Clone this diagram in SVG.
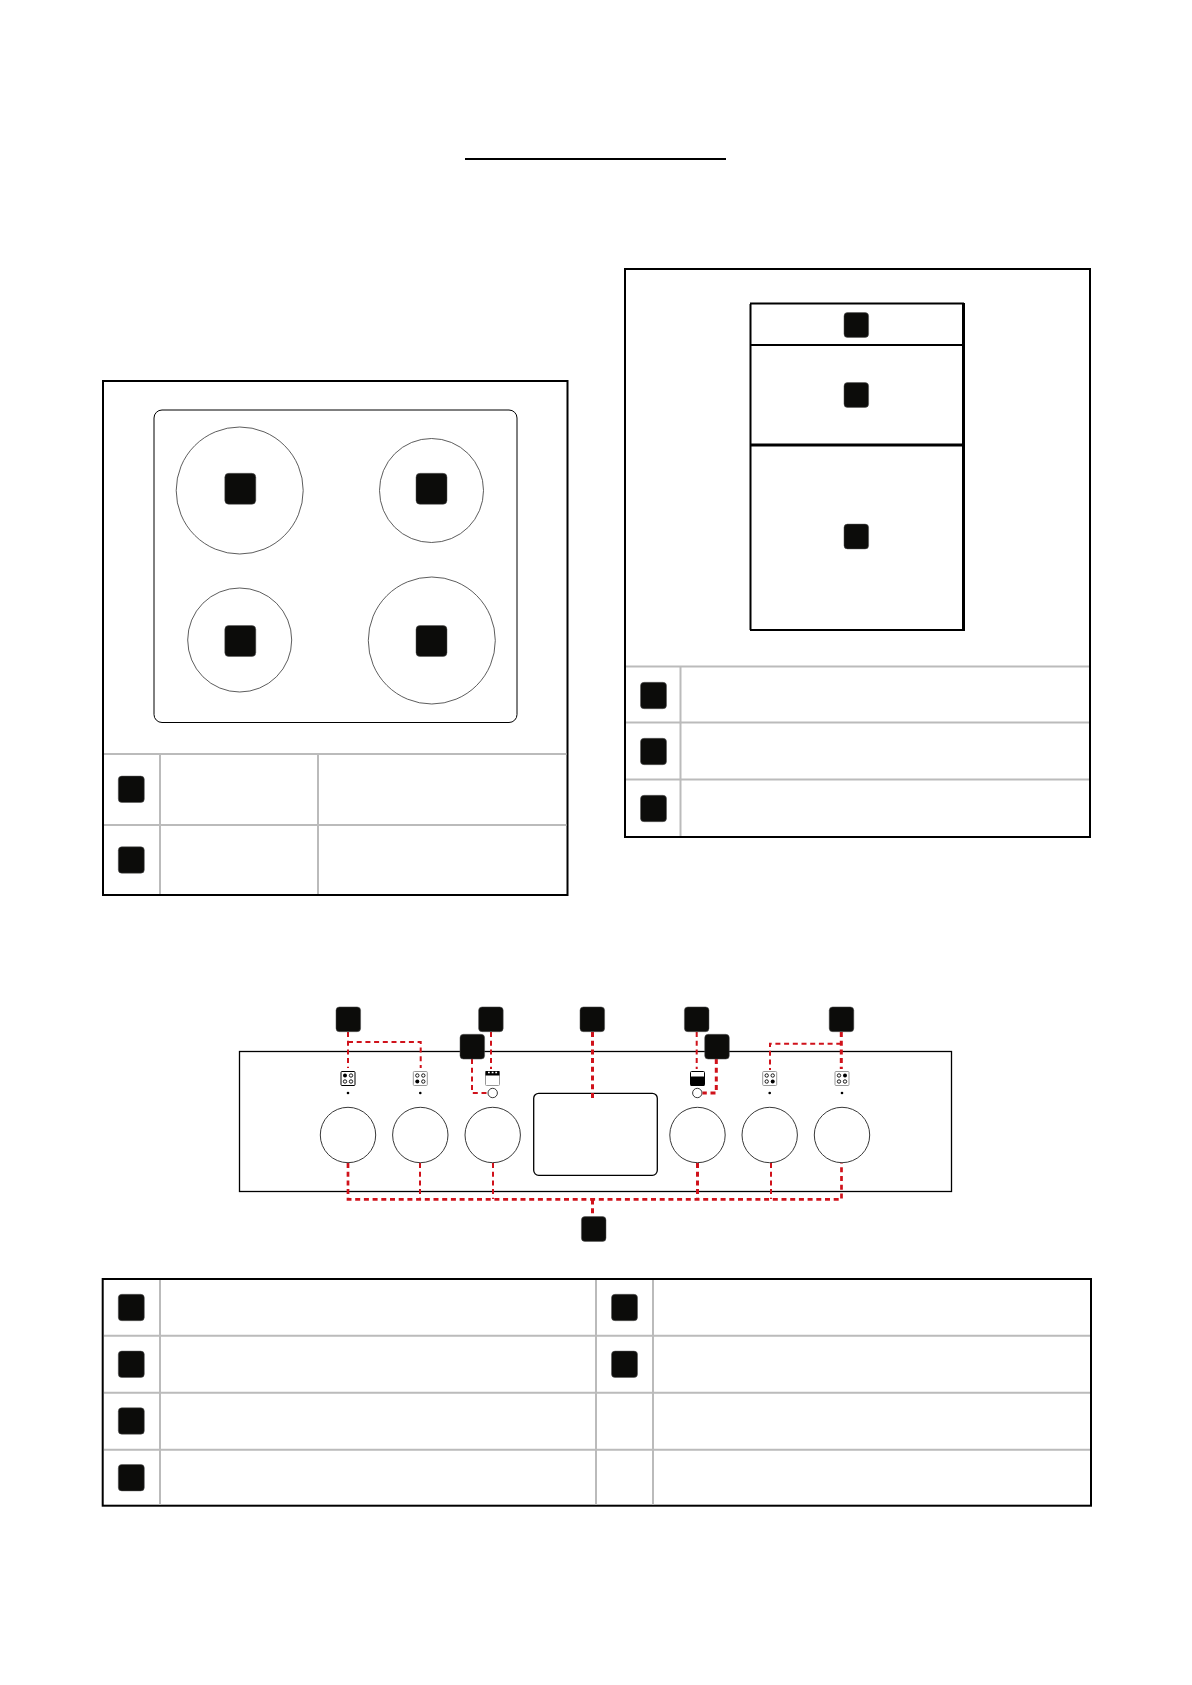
<svg xmlns="http://www.w3.org/2000/svg" width="1192" height="1685" viewBox="0 0 1192 1685">
<style>
.box{fill:none;stroke:#000;stroke-width:2}
.thin{fill:none;stroke:#000;stroke-width:1}
.ring{fill:none;stroke:#333;stroke-width:.8}
.panel{fill:none;stroke:#000;stroke-width:1.3}
.grid{fill:none;stroke:#bbb;stroke-width:2}
.b{fill:#0c0c0a;stroke:#555;stroke-width:.5}
.d2{fill:none;stroke:#d0121b;stroke-width:2;stroke-dasharray:5 3.7}
.d3{fill:none;stroke:#d0121b;stroke-width:3;stroke-dasharray:5 3.7}
.d25{fill:none;stroke:#d0121b;stroke-width:2.7;stroke-dasharray:5 3.7}
.knob{fill:#fff;stroke:#222;stroke-width:.9}
.ic{fill:#fff;stroke:#999;stroke-width:1}
.icd{fill:#fff;stroke:#000;stroke-width:1}
.o{fill:#fff;stroke:#000;stroke-width:.9}
.f{fill:#000}
</style>
<defs>
<rect id="bs" class="b" x="-13" y="-13.2" width="26" height="26.4" rx="3.500"/>
<rect id="bm" class="b" x="-12.3" y="-12.4" width="24.6" height="24.8" rx="3.500"/>
<rect id="bh" class="b" x="-15.5" y="-15.5" width="31" height="31" rx="4"/>
</defs>
<rect width="1192" height="1685" fill="#fff"/>
<g id="title-rule"><rect x="465" y="158" width="261" height="2" fill="#000"/></g>

<g id="hob-box">
<rect class="box" x="103" y="381" width="464.500" height="514"/>
<path class="grid" d="M104 754H566.500M104 825H566.500M160 755V894M318 755V894"/>
<rect class="thin" x="154" y="410" width="363" height="312.500" rx="8"/>
<circle class="ring" cx="239.700" cy="490.500" r="63.500"/>
<circle class="ring" cx="431.500" cy="490.500" r="52"/>
<circle class="ring" cx="239.700" cy="640" r="52"/>
<circle class="ring" cx="431.800" cy="640.500" r="63.500"/>
<use href="#bh" x="240.300" y="488.800"/>
<use href="#bh" x="431.500" y="488.800"/>
<use href="#bh" x="240.300" y="641"/>
<use href="#bh" x="431.500" y="641"/>
<use href="#bs" x="131.300" y="789.300"/>
<use href="#bs" x="131.300" y="860"/>
</g>

<g id="oven-box">
<rect class="box" x="625" y="269" width="465" height="568"/>
<path class="grid" d="M626 666.500H1089M626 722.500H1089M626 779.500H1089M680.500 667V836"/>
<path d="M750.500 304V630M750 303.500H964M750 630H964" fill="none" stroke="#000" stroke-width="2"/>
<path d="M963.500 303V631" fill="none" stroke="#000" stroke-width="3"/>
<path d="M751 345H963" stroke="#000" stroke-width="2" fill="none"/>
<path d="M751 445H963" stroke="#000" stroke-width="3" fill="none"/>
<use href="#bm" x="856.300" y="325"/>
<use href="#bm" x="856.300" y="395"/>
<use href="#bm" x="856.300" y="536.500"/>
<use href="#bs" x="653.500" y="695.500"/>
<use href="#bs" x="653.500" y="751.500"/>
<use href="#bs" x="653.500" y="808.500"/>
</g>

<g id="control-panel">
<rect class="panel" x="239.500" y="1051.500" width="712" height="140"/>
<rect class="panel" x="533.700" y="1093.300" width="123.600" height="82" rx="5" fill="#fff"/>
<circle class="knob" cx="348" cy="1135" r="27.700"/>
<circle class="knob" cx="420.300" cy="1135" r="27.700"/>
<circle class="knob" cx="492.700" cy="1135" r="27.700"/>
<circle class="knob" cx="697.500" cy="1135" r="27.700"/>
<circle class="knob" cx="769.700" cy="1135" r="27.700"/>
<circle class="knob" cx="842" cy="1135" r="27.700"/>
<circle class="knob" cx="492.700" cy="1093" r="4.700"/>
<circle class="knob" cx="697.300" cy="1093" r="4.700"/>
<circle class="f" cx="348" cy="1093" r="1.300"/>
<circle class="f" cx="420.300" cy="1093" r="1.300"/>
<circle class="f" cx="769.700" cy="1093" r="1.300"/>
<circle class="f" cx="842" cy="1093" r="1.300"/>
</g>

<g id="icon-1">
<rect class="icd" x="341" y="1071.500" width="14" height="14" rx="1"/>
<circle class="f" cx="345" cy="1075.500" r="2"/><circle class="o" cx="351" cy="1075.500" r="1.700"/>
<circle class="o" cx="345" cy="1081.500" r="1.700"/><circle class="o" cx="351" cy="1081.500" r="1.700"/>
</g>
<g id="icon-2">
<rect class="ic" x="413.300" y="1071.500" width="14" height="14" rx="1"/>
<circle class="o" cx="417.300" cy="1075.500" r="1.700"/><circle class="o" cx="423.300" cy="1075.500" r="1.700"/>
<circle class="f" cx="417.300" cy="1081.500" r="2"/><circle class="o" cx="423.300" cy="1081.500" r="1.700"/>
</g>
<g id="icon-3">
<rect class="ic" x="485.500" y="1071.500" width="14" height="14" rx="1"/>
<rect x="485.500" y="1071" width="14" height="4.500" fill="#000"/>
<path d="M488 1072.500h1.800M491.700 1072.500h1.800M495.300 1072.500h1.800" stroke="#fff" stroke-width="1.300" fill="none"/>
</g>
<g id="icon-4">
<rect class="icd" x="690.500" y="1071.500" width="14" height="14" rx="1"/>
<rect x="690.500" y="1076.500" width="14" height="9.500" rx="1" fill="#000"/>
</g>
<g id="icon-5">
<rect class="ic" x="762.700" y="1071.500" width="14" height="14" rx="1"/>
<circle class="o" cx="766.700" cy="1075.500" r="1.700"/><circle class="o" cx="772.700" cy="1075.500" r="1.700"/>
<circle class="o" cx="766.700" cy="1081.500" r="1.700"/><circle class="f" cx="772.700" cy="1081.500" r="2"/>
</g>
<g id="icon-6">
<rect class="ic" x="835" y="1071.500" width="14" height="14" rx="1"/>
<circle class="o" cx="839" cy="1075.500" r="1.700"/><circle class="f" cx="845" cy="1075.500" r="2"/>
<circle class="o" cx="839" cy="1081.500" r="1.700"/><circle class="o" cx="845" cy="1081.500" r="1.700"/>
</g>

<g id="connectors">
<path class="d2" d="M348 1032V1068"/>
<path class="d2" d="M348 1042H420.700V1068"/>
<path class="d2" d="M491 1032V1069"/>
<path class="d2" d="M472 1059V1093H487.500"/>
<path class="d3" d="M592.500 1032V1098"/>
<path class="d2" d="M696.700 1032V1069"/>
<path class="d3" d="M716.300 1059V1093H702.500"/>
<path class="d3" d="M841.300 1032V1069"/>
<path class="d2" d="M841.300 1043.700H770V1070"/>
<path class="d25" d="M348 1163V1199.300H841.500V1163"/>
<path class="d2" d="M420 1163V1199"/>
<path class="d2" d="M493 1163V1199"/>
<path class="d3" d="M697.500 1163V1199"/>
<path class="d2" d="M771 1163V1199"/>
<path class="d3" d="M592.500 1199.500V1217"/>
</g>

<g id="panel-badges">
<use href="#bm" x="348.300" y="1019.300"/>
<use href="#bm" x="490.900" y="1019.300"/>
<use href="#bm" x="592.300" y="1019.300"/>
<use href="#bm" x="696.700" y="1019.300"/>
<use href="#bm" x="841.500" y="1019.300"/>
<use href="#bm" x="472.300" y="1046.700"/>
<use href="#bm" x="717" y="1046.700"/>
<use href="#bm" x="593.700" y="1229"/>
</g>

<g id="legend-table">
<rect class="box" x="102.700" y="1279" width="988.300" height="226.700"/>
<path class="grid" d="M104 1335.700H1090M104 1392.700H1090M104 1449.700H1090M160 1280V1505M596 1280V1505M653 1280V1505"/>
<use href="#bs" x="131.300" y="1307.500"/>
<use href="#bs" x="131.300" y="1364.300"/>
<use href="#bs" x="131.300" y="1421"/>
<use href="#bs" x="131.300" y="1477.700"/>
<use href="#bs" x="624.500" y="1307.500"/>
<use href="#bs" x="624.500" y="1364.300"/>
</g>
</svg>
